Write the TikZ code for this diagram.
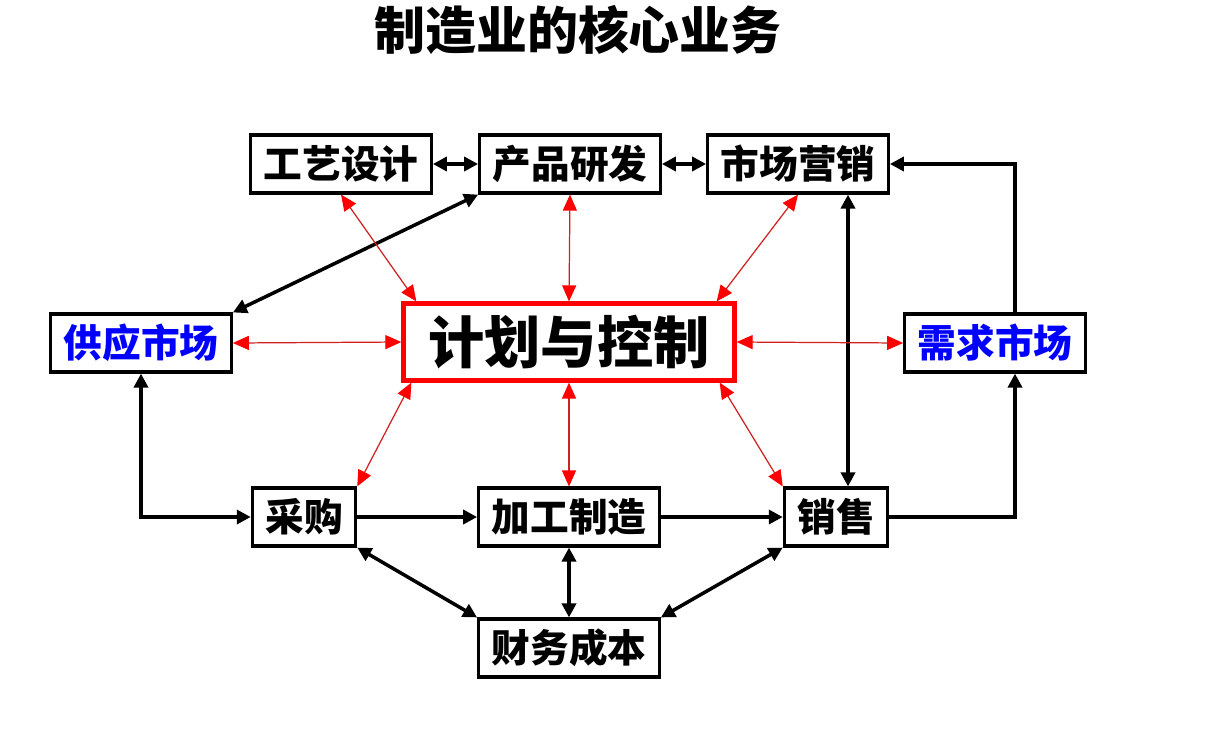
\documentclass[tikz,border=0pt]{standalone}
\usepackage{fontspec}
\setmainfont{Noto Sans CJK SC}
\usetikzlibrary{arrows.meta,positioning,calc}
\definecolor{inkblack}{HTML}{000000}
\definecolor{planred}{HTML}{FF0000}
\definecolor{linkred}{HTML}{D02020}
\definecolor{marketblue}{HTML}{0000FF}
\tikzset{
  mbox/.style={draw=inkblack, line width=1.8pt, fill=white, font=\bfseries\fontsize{22}{26}\selectfont, inner xsep=0.26cm, inner ysep=0pt, minimum height=1.16cm},
  mboxmarket/.style={mbox, text=marketblue},
  mboxplan/.style={mbox, draw=planred, line width=2.4pt, font=\bfseries\fontsize{32}{38}\selectfont, inner xsep=0.5cm, minimum height=1.54cm},
  marrow/.style={{Triangle[length=2.8mm,width=2.8mm]}-{Triangle[length=2.8mm,width=2.8mm]}, line width=2pt, inkblack},
  marrowone/.style={-{Triangle[length=2.8mm,width=2.8mm]}, line width=2pt, inkblack},
  marrowplan/.style={{Triangle[length=3.2mm,width=2.8mm,color=planred]}-{Triangle[length=3.2mm,width=2.8mm,color=planred]}, line width=0.7pt, linkred},
  mtitle/.style={font=\bfseries\fontsize{29}{34}\selectfont},
}
\begin{document}
\begin{tikzpicture}[x=0.02cm, y=-0.02cm]
  \useasboundingbox[fill=white] (0,0) rectangle (1213,728);
  \node[mtitle] (title) at (578,30) {制造业的核心业务};
  % top row
  \node[mbox] (gongyi) at (341,164) {工艺设计};
  \node[mbox] (yanfa) at (570,164) {产品研发};
  \node[mbox] (yingxiao) at (798,164) {市场营销};
  % middle row
  \node[mboxmarket] (gongying) at (141,343) {供应市场};
  \node[mboxplan] (jihua) at (569,342) {计划与控制};
  \node[mboxmarket] (xuqiu) at (995,343) {需求市场};
  % bottom rows
  \node[mbox] (caigou) at (304,517) {采购};
  \node[mbox] (zhizao) at (569,517) {加工制造};
  \node[mbox] (xiaoshou) at (836,517) {销售};
  \node[mbox] (caiwu) at (569,648) {财务成本};
  % black links
  \draw[marrow] (gongyi.east) -- (yanfa.west);
  \draw[marrow] (yanfa.east) -- (yingxiao.west);
  \draw[marrow] (yanfa.south west) -- (gongying.north east);
  \draw[marrow] ($(yingxiao.south)+(50,0)$) -- ($(xiaoshou.north)+(12,0)$);
  \draw[marrowone] ($(xuqiu.north)+(20,0)$) |- (yingxiao.east);
  \draw[marrowone] (xiaoshou.east) -| ($(xuqiu.south)+(20,0)$);
  \draw[marrow] (gongying.south) |- (caigou.west);
  \draw[marrowone] (caigou.east) -- (zhizao.west);
  \draw[marrowone] (zhizao.east) -- (xiaoshou.west);
  \draw[marrow] (caigou.south east) -- (caiwu.north west);
  \draw[marrow] (zhizao.south) -- (caiwu.north);
  \draw[marrow] (xiaoshou.south west) -- (caiwu.north east);
  % red links to planning
  \draw[marrowplan] (gongyi.south) -- ($(jihua.north west)+(15,0)$);
  \draw[marrowplan] (yanfa.south) -- (jihua.north);
  \draw[marrowplan] (yingxiao.south) -- ($(jihua.north east)+(-20,0)$);
  \draw[marrowplan] (gongying.east) -- (jihua.west);
  \draw[marrowplan] (xuqiu.west) -- (jihua.east);
  \draw[marrowplan] (caigou.north east) -- ($(jihua.south west)+(10,0)$);
  \draw[marrowplan] (zhizao.north) -- (jihua.south);
  \draw[marrowplan] (xiaoshou.north west) -- ($(jihua.south east)+(-17,0)$);
\end{tikzpicture}
\end{document}
